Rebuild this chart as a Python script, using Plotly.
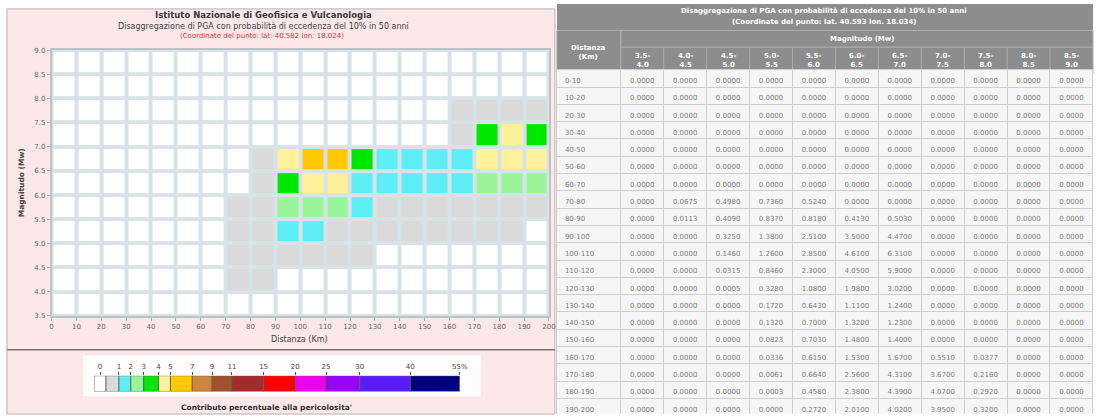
import plotly.graph_objects as go

W, H = 1101, 418
FONT = "DejaVu Sans"

# ---------------- data ----------------
distance_edges = [0, 10, 20, 30, 40, 50, 60, 70, 80, 90, 100,
                  110, 120, 130, 140, 150, 160, 170, 180, 190, 200]
magnitude_edges = [3.5, 4.0, 4.5, 5.0, 5.5, 6.0, 6.5, 7.0, 7.5, 8.0, 8.5, 9.0]

# contribution (%) per distance bin (0-10 ... 190-200), one list per magnitude bin
mw_35_40 = [0.0000, 0.0000, 0.0000, 0.0000, 0.0000, 0.0000, 0.0000, 0.0000, 0.0000, 0.0000,
            0.0000, 0.0000, 0.0000, 0.0000, 0.0000, 0.0000, 0.0000, 0.0000, 0.0000, 0.0000]
mw_40_45 = [0.0000, 0.0000, 0.0000, 0.0000, 0.0000, 0.0000, 0.0000, 0.0675, 0.0113, 0.0000,
            0.0000, 0.0000, 0.0000, 0.0000, 0.0000, 0.0000, 0.0000, 0.0000, 0.0000, 0.0000]
mw_45_50 = [0.0000, 0.0000, 0.0000, 0.0000, 0.0000, 0.0000, 0.0000, 0.4980, 0.4090, 0.3250,
            0.1460, 0.0315, 0.0005, 0.0000, 0.0000, 0.0000, 0.0000, 0.0000, 0.0000, 0.0000]
mw_50_55 = [0.0000, 0.0000, 0.0000, 0.0000, 0.0000, 0.0000, 0.0000, 0.7360, 0.8370, 1.3800,
            1.2600, 0.8460, 0.3280, 0.1720, 0.1320, 0.0823, 0.0336, 0.0061, 0.0003, 0.0000]
mw_55_60 = [0.0000, 0.0000, 0.0000, 0.0000, 0.0000, 0.0000, 0.0000, 0.5240, 0.8180, 2.5100,
            2.8500, 2.3000, 1.0800, 0.6430, 0.7000, 0.7030, 0.6150, 0.6640, 0.4580, 0.2720]
mw_60_65 = [0.0000, 0.0000, 0.0000, 0.0000, 0.0000, 0.0000, 0.0000, 0.0000, 0.4130, 3.5000,
            4.6100, 4.0500, 1.9800, 1.1100, 1.3200, 1.4800, 1.5300, 2.5600, 2.3800, 2.0100]
mw_65_70 = [0.0000, 0.0000, 0.0000, 0.0000, 0.0000, 0.0000, 0.0000, 0.0000, 0.5030, 4.4700,
            6.3100, 5.9000, 3.0200, 1.2400, 1.2300, 1.4000, 1.6700, 4.3100, 4.3900, 4.0200]
mw_70_75 = [0.0000, 0.0000, 0.0000, 0.0000, 0.0000, 0.0000, 0.0000, 0.0000, 0.0000, 0.0000,
            0.0000, 0.0000, 0.0000, 0.0000, 0.0000, 0.0000, 0.5510, 3.6700, 4.0700, 3.9500]
mw_75_80 = [0.0000, 0.0000, 0.0000, 0.0000, 0.0000, 0.0000, 0.0000, 0.0000, 0.0000, 0.0000,
            0.0000, 0.0000, 0.0000, 0.0000, 0.0000, 0.0000, 0.0377, 0.2160, 0.2920, 0.3200]
mw_80_85 = [0.0000, 0.0000, 0.0000, 0.0000, 0.0000, 0.0000, 0.0000, 0.0000, 0.0000, 0.0000,
            0.0000, 0.0000, 0.0000, 0.0000, 0.0000, 0.0000, 0.0000, 0.0000, 0.0000, 0.0000]
mw_85_90 = [0.0000, 0.0000, 0.0000, 0.0000, 0.0000, 0.0000, 0.0000, 0.0000, 0.0000, 0.0000,
            0.0000, 0.0000, 0.0000, 0.0000, 0.0000, 0.0000, 0.0000, 0.0000, 0.0000, 0.0000]

magnitude_series = [mw_35_40, mw_40_45, mw_45_50, mw_50_55, mw_55_60, mw_60_65,
                    mw_65_70, mw_70_75, mw_75_80, mw_80_85, mw_85_90]

# colour classes of the legend (first class = exactly 0)
class_edges = [0, 1, 2, 3, 4, 5, 7, 9, 11, 15, 20, 25, 30, 40, 55]
class_colors = ["#ffffff", "#dadada", "#5eeef6", "#9af59a", "#00e800", "#fff29a",
                "#ffc800", "#cd853f", "#a0522d", "#a52a2a", "#ff0000", "#ee00ee",
                "#9a00ff", "#5a1cff", "#000080"]

# ---------------- styles / layout helpers ----------------
LEGEND_BOX_PX = [12, 13, 12, 13, 15, 12, 22, 20, 20, 32, 32, 31, 34, 51, 50]
PINK = "#fce8e8"
GRIDBG = "#d7e3e6"
HDR = "#8d8d8d"
HDR_LINE = "#ababab"
CELL_FILL = "#f6f6f6"
CELL_LINE = "#cfcfcf"
CELL_FONT = dict(family=FONT, size=7, color="#7a7a7a")
TABLE_X0 = 560
TABLE_COLW = [64] + [43] * len(magnitude_series)


def px(x):
    return x / W


def py(y):
    return 1 - y / H


# step colourscale built from the classes
ZMAX = class_edges[-1]
EPS = 1e-6
colorscale = [[0.0, class_colors[0]], [EPS, class_colors[0]]]
for i in range(len(class_edges) - 1):
    lo = max(class_edges[i] / ZMAX, EPS)
    hi = class_edges[i + 1] / ZMAX
    c = class_colors[i + 1]
    colorscale += [[lo, c], [hi, c]]

fig = go.Figure()

# ---- main disaggregation grid ----
fig.add_trace(go.Heatmap(
    x=distance_edges, y=magnitude_edges, z=magnitude_series,
    zmin=0, zmax=ZMAX, colorscale=colorscale, showscale=False,
    xgap=4, ygap=4, hoverinfo="skip", xaxis="x", yaxis="y"))

# ---- legend colour boxes ----
lefts = []
acc = 0
for w in LEGEND_BOX_PX:
    lefts.append(acc)
    acc += w
legend_total = acc
fig.add_trace(go.Bar(
    orientation="h", y=[0] * len(class_colors), x=LEGEND_BOX_PX, base=lefts,
    width=1, marker=dict(color=class_colors, line=dict(color="#5a5a5a", width=0.8)),
    hoverinfo="skip", xaxis="x2", yaxis="y2"))

tick_pos = [LEGEND_BOX_PX[0] / 2] + [lefts[k + 1] + LEGEND_BOX_PX[k + 1] for k in range(len(class_edges) - 1)]
tick_txt = [str(v) for v in class_edges]
tick_txt[-1] = tick_txt[-1] + "%"

# ---- table (titles drawn with shapes + annotations) ----
dist_labels = [f"{distance_edges[i]}-{distance_edges[i + 1]}" for i in range(len(distance_edges) - 1)]
mag_labels = [f"{magnitude_edges[i]:.1f}-<br>{magnitude_edges[i + 1]:.1f}" for i in range(len(magnitude_edges) - 1)]
BODY_TOP = 71
TABLE_TOP = 67
row_h = 17.3
columns = [dist_labels] + magnitude_series
fmt = [""] + [".4f"] * len(magnitude_series)
aligns = ["left"] + ["center"] * len(magnitude_series)

# first body row is carried by the table header row (styled like the body)
fig.add_trace(go.Table(
    domain=dict(x=[px(TABLE_X0), 1.0], y=[0.0, py(TABLE_TOP)]),
    columnwidth=TABLE_COLW,
    header=dict(values=[[col[0]] for col in columns], format=fmt,
                height=row_h, fill_color=CELL_FILL,
                line=dict(color=CELL_LINE, width=1), font=CELL_FONT, align=aligns),
    cells=dict(values=[col[1:] for col in columns], format=fmt,
               height=row_h, fill_color=CELL_FILL,
               line=dict(color=CELL_LINE, width=1), font=CELL_FONT, align=aligns),
))

# column geometry of the table (same proportional rule plotly uses)
avail = W - TABLE_X0
scale = avail / sum(TABLE_COLW)
col_x = [TABLE_X0]
for w in TABLE_COLW:
    col_x.append(col_x[-1] + w * scale)

shapes = [
    # left pink panel
    dict(type="rect", xref="paper", yref="paper", x0=px(5), x1=px(558), y0=py(418), y1=py(5),
         fillcolor=PINK, line=dict(color="#b9b0b0", width=1), layer="below"),
    # grid background (gaps between the cells)
    dict(type="rect", xref="paper", yref="paper", x0=px(50), x1=px(552), y0=py(318), y1=py(47),
         fillcolor=GRIDBG, line=dict(width=0), layer="below"),
    dict(type="line", xref="paper", yref="paper", x0=px(5), x1=px(558), y0=py(352.5), y1=py(352.5),
         line=dict(color="#7c7474", width=1.6), layer="below"),
    # legend white background
    dict(type="rect", xref="paper", yref="paper", x0=px(82), x1=px(483), y0=py(400), y1=py(358),
         fillcolor="#fffdfd", line=dict(width=0), layer="below"),
    # table header bands
    dict(type="rect", xref="paper", yref="paper", x0=px(TABLE_X0), x1=1.0, y0=py(27), y1=1.0,
         fillcolor=HDR, line=dict(width=0), layer="below"),
    dict(type="rect", xref="paper", yref="paper", x0=px(col_x[1]), x1=1.0, y0=py(44), y1=py(27),
         fillcolor=HDR, line=dict(color=HDR_LINE, width=1), layer="below"),
    dict(type="rect", xref="paper", yref="paper", x0=px(TABLE_X0), x1=px(col_x[1]), y0=py(BODY_TOP), y1=py(27),
         fillcolor=HDR, line=dict(color=HDR_LINE, width=1), layer="below"),
    dict(type="rect", xref="paper", yref="paper", x0=px(col_x[1]), x1=1.0, y0=py(BODY_TOP), y1=py(44),
         fillcolor=HDR, line=dict(color=HDR_LINE, width=1), layer="below"),
]
for xb in col_x[2:-1]:
    shapes.append(dict(type="line", xref="paper", yref="paper", x0=px(xb), x1=px(xb),
                       y0=py(BODY_TOP), y1=py(44), line=dict(color=HDR_LINE, width=1), layer="below"))

ann = []


def add_text(x, y, text, size, color="#333", bold=False, angle=0, xanchor="center"):
    ann.append(dict(xref="paper", yref="paper", x=px(x), y=py(y), text=(f"<b>{text}</b>" if bold else text),
                    showarrow=False, xanchor=xanchor, yanchor="middle", textangle=angle,
                    font=dict(family=FONT, size=size, color=color)))


add_text(264, 11, "Istituto Nazionale di Geofisica e Vulcanologia", 8.5, "#3a3a3a", bold=True)
add_text(264, 23, "Disaggregazione di PGA con probabilità di eccedenza del 10% in 50 anni", 8, "#444")
add_text(262, 33, "(Coordinate del punto: lat: 40.582 lon: 18.024)", 7, "#e03535")
add_text(300, 342, "Distanza (Km)", 8, "#444")
add_text(20, 182, "Magnitudo (Mw)", 7.5, "#444", bold=True, angle=-90)
add_text(267, 411, "Contributo percentuale alla pericolosita'", 7.5, "#333", bold=True)
add_text(830, 7, "Disaggregazione di PGA con probabilità di eccedenza del 10% in 50 anni", 7, "white", bold=True)
add_text(830, 18, "(Coordinate del punto: lat. 40.593 lon. 18.034)", 7, "white", bold=True)
add_text(868, 35.5, "Magnitudo (Mw)", 7, "white", bold=True)
add_text((col_x[0] + col_x[1]) / 2, 49, "Distanza<br>(Km)", 7, "white", bold=True)
for i, lab in enumerate(mag_labels):
    add_text((col_x[i + 1] + col_x[i + 2]) / 2, 57.5, lab, 7, "white", bold=True)

axis_font = dict(family=FONT, size=7, color="#666")
fig.update_layout(
    width=W, height=H, autosize=False,
    margin=dict(l=0, r=0, t=0, b=0, pad=0),
    paper_bgcolor="white", plot_bgcolor=GRIDBG,
    showlegend=False, barmode="overlay",
    shapes=shapes, annotations=ann,
    xaxis=dict(domain=[px(50), px(552)], range=[0, 200], dtick=10, tick0=0,
               showgrid=False, zeroline=False, ticks="outside", ticklen=3, tickcolor="#aaa",
               showline=True, mirror=True, linecolor="#b8c4c6", linewidth=1.5,
               tickfont=axis_font, anchor="y"),
    yaxis=dict(domain=[py(318), py(47)], range=[3.5, 9.0], dtick=0.5, tick0=3.5, tickformat=".1f",
               showgrid=False, zeroline=False, ticks="outside", ticklen=3, tickcolor="#aaa",
               showline=True, mirror=True, linecolor="#b8c4c6", linewidth=1.5,
               tickfont=axis_font, anchor="x"),
    xaxis2=dict(domain=[px(93), px(93 + legend_total)], range=[0, legend_total], anchor="y2",
                side="top", tickvals=tick_pos, ticktext=tick_txt, ticks="outside", ticklen=3,
                tickcolor="#555", showgrid=False, zeroline=False, showline=False,
                tickfont=dict(family=FONT, size=7, color="#444"), fixedrange=True),
    yaxis2=dict(domain=[py(395), py(379)], range=[-0.5, 0.5], anchor="x2", visible=False,
                fixedrange=True),
)

fig.write_html("out.html", config={"displayModeBar": False},
               post_script="document.body.style.margin='0';document.body.style.overflow='hidden';")
